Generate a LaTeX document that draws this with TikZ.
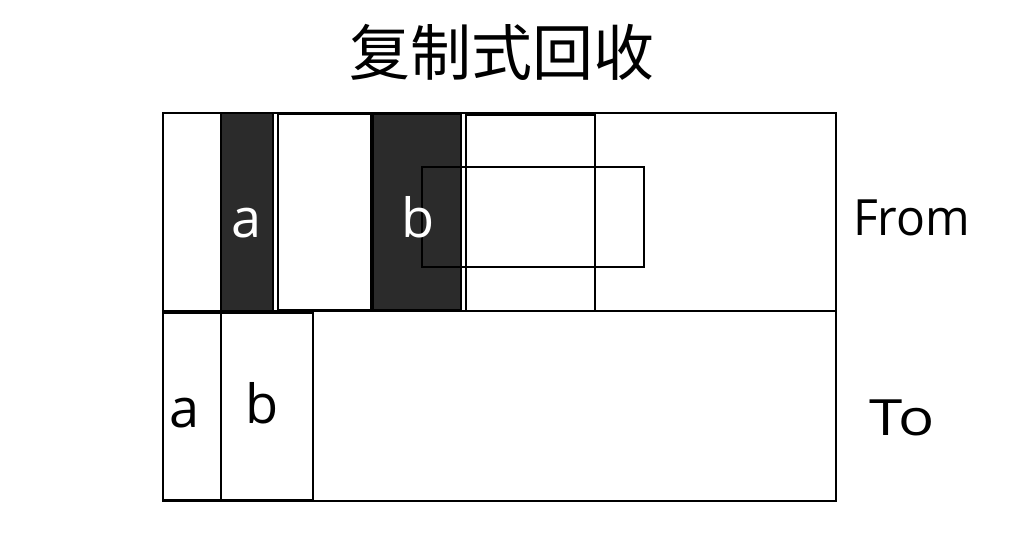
\documentclass[tikz,border=0pt]{standalone}
\usepackage{fontspec}
\setmainfont{Open Sans}
\newfontfamily\cjk{Noto Sans CJK SC}
\definecolor{darkcell}{HTML}{2B2B2B}
\tikzset{
  cell/.style={draw=black, line width=1.6pt, fill=white, inner sep=0pt, anchor=north west},
  dcell/.style={cell, fill=darkcell},
  lbl/.style={font=\fontsize{54}{54}\selectfont, inner sep=0pt, anchor=base},
  side/.style={font=\fontsize{50}{50}\selectfont, inner sep=0pt, anchor=base west},
}
\begin{document}
\begin{tikzpicture}[x=1pt,y=-1pt]
\useasboundingbox (0,0) rectangle (1024,538);
\node[font=\cjk\fontsize{61}{61}\selectfont, inner sep=0pt] (title) at (502,52) {复制式回收};
% From space
\node[cell, minimum width=673pt, minimum height=198pt] (from) at (162,112) {};
\node[cell, minimum width=58pt, minimum height=198pt] (f1) at (162,112) {};
\node[dcell, minimum width=52pt, minimum height=198pt] (fa) at (220,112) {};
\node[cell, minimum width=93pt, minimum height=196pt] (f3) at (277,113) {};
\node[dcell, minimum width=88pt, minimum height=196pt] (fb) at (372,113) {};
\node[cell, minimum width=129pt, minimum height=196pt] (f5) at (465,114) {};
\node[draw=black, line width=1.6pt, inner sep=0pt, anchor=north west, minimum width=222pt, minimum height=100pt] (ov) at (421,166) {};
\node[lbl, text=white] (la) at (247,237) {a};
\node[lbl, text=white] (lb) at (418,237) {b};
% To space
\node[cell, minimum width=673pt, minimum height=190pt] (to) at (162,310) {};
\node[cell, minimum width=58pt, minimum height=187pt] (t1) at (162,312) {};
\node[cell, minimum width=92pt, minimum height=187pt] (t2) at (220,312) {};
\node[lbl] (ta) at (185,427) {a};
\node[lbl] (tb) at (262,423) {b};
\node[side, xscale=0.96] (lfrom) at (853,235) {From};
\node[side, xscale=1.2] (lto) at (869,435) {To};
\end{tikzpicture}
\end{document}
